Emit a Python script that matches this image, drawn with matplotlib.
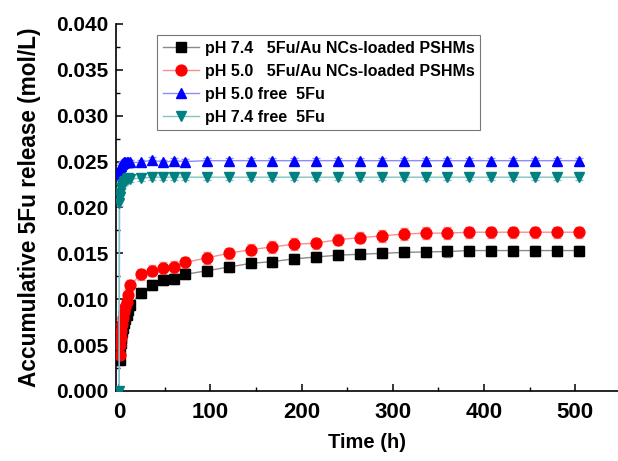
import matplotlib
matplotlib.use("Agg")
import matplotlib.pyplot as plt
from matplotlib.ticker import MultipleLocator, FormatStrFormatter

plt.rcParams['font.family'] = ['Liberation Sans', 'DejaVu Sans']
plt.rcParams['font.weight'] = 'bold'

# ---------------- data ----------------
time_loaded = [0.5, 1, 1.5, 2, 3, 4, 5, 6, 8, 10, 12, 24, 36, 48, 60, 72, 96, 120,
               144, 168, 192, 216, 240, 264, 288, 312, 336, 360, 384, 408, 432,
               456, 480, 504]
ph74_loaded = [0.0034, 0.0045, 0.0052, 0.0058, 0.0064, 0.0069, 0.0074, 0.0078,
               0.0083, 0.0088, 0.0094, 0.0107, 0.0115, 0.0121, 0.0122, 0.0127,
               0.0131, 0.0135, 0.0139, 0.0141, 0.0144, 0.0146, 0.0148, 0.0149,
               0.0150, 0.0151, 0.01515, 0.0152, 0.0153, 0.0153, 0.0153, 0.0153,
               0.0153, 0.0153]
ph50_loaded = [0.0039, 0.0050, 0.0058, 0.0065, 0.0073, 0.0080, 0.0086, 0.0091,
               0.0097, 0.0105, 0.0115, 0.0127, 0.0131, 0.0134, 0.0135, 0.0140,
               0.0145, 0.0150, 0.0154, 0.0157, 0.0160, 0.0161, 0.0165, 0.0167,
               0.0169, 0.0171, 0.0172, 0.0172, 0.0173, 0.0173, 0.0173, 0.0173,
               0.0173, 0.0173]

time_free = [0, 0.25, 0.5, 1, 2, 3, 4, 5, 6, 8, 10, 12, 24, 36, 48, 60, 72, 96,
             120, 144, 168, 192, 216, 240, 264, 288, 312, 336, 360, 384, 408,
             432, 456, 480, 504]
ph50_free = [0.0, 0.0236, 0.0240, 0.0243, 0.0245, 0.0247, 0.0248, 0.0249, 0.0249,
             0.0250, 0.0250, 0.0249, 0.0249, 0.0252, 0.0249, 0.0251, 0.0250,
             0.0251, 0.0251, 0.0251, 0.0251, 0.0251, 0.0251, 0.0251, 0.0251,
             0.0251, 0.0251, 0.0251, 0.0251, 0.0251, 0.0251, 0.0251, 0.0251,
             0.0251, 0.0251]
ph74_free = [0.0, 0.0205, 0.0211, 0.0216, 0.0221, 0.0224, 0.0226, 0.0228, 0.0229,
             0.0231, 0.0232, 0.0231, 0.0232, 0.0233, 0.0233, 0.0233, 0.0233,
             0.0233, 0.0233, 0.0233, 0.0233, 0.0233, 0.0233, 0.0233, 0.0233,
             0.0233, 0.0233, 0.0233, 0.0233, 0.0233, 0.0233, 0.0233, 0.0233,
             0.0233, 0.0233]

err_ph74_loaded = 0.00055
err_ph50_loaded = 0.00062
err_ph50_free = 0.0003
err_ph74_free = 0.0003

labels = ["pH 7.4   5Fu/Au NCs-loaded PSHMs",
          "pH 5.0   5Fu/Au NCs-loaded PSHMs",
          "pH 5.0 free  5Fu",
          "pH 7.4 free  5Fu"]

# ---------------- figure ----------------
fig = plt.figure(figsize=(6.18, 4.61), dpi=100)
ax = fig.add_axes([0.1885, 0.152, 0.8115, 0.796])

series = [
    (time_loaded, ph74_loaded, err_ph74_loaded, 'black', '#8a8a8a', 's', 6.8),
    (time_loaded, ph50_loaded, err_ph50_loaded, '#ff0000', '#ff8c8c', 'o', 7.8),
    (time_free, ph50_free, err_ph50_free, '#0000ff', '#8c8cff', '^', 7.8),
    (time_free, ph74_free, err_ph74_free, '#008080', '#7fc4c0', 'v', 7.8),
]
handles = []
for (t, y, e, c, lc, m, ms), lab in zip(series, labels):
    ax.errorbar(t, y, yerr=e, fmt='none', ecolor=lc, elinewidth=1.0,
                capsize=3, capthick=1.0, zorder=2)
    h, = ax.plot(t, y, color=lc, lw=1.0, marker=m, markersize=ms,
                 markerfacecolor=c, markeredgecolor=c, label=lab, zorder=3)
    handles.append(h)

ax.set_xlim(-3, 547)
ax.set_ylim(0.0, 0.040)
ax.yaxis.set_major_locator(MultipleLocator(0.005))
ax.yaxis.set_minor_locator(MultipleLocator(0.0025))
ax.yaxis.set_major_formatter(FormatStrFormatter('%.3f'))
ax.xaxis.set_major_locator(MultipleLocator(100))
ax.xaxis.set_minor_locator(MultipleLocator(50))

for s in ['top', 'right']:
    ax.spines[s].set_visible(False)
for s in ['left', 'bottom']:
    ax.spines[s].set_linewidth(1.2)

ax.tick_params(axis='both', which='major', direction='in', length=5, width=1.1)
ax.tick_params(axis='both', which='minor', direction='in', length=3, width=1.0)
ax.tick_params(axis='y', which='major', labelsize=15, pad=6)
ax.tick_params(axis='x', which='major', labelsize=16, pad=8)
for lbl in ax.get_xticklabels() + ax.get_yticklabels():
    lbl.set_fontweight('bold')

ax.set_xlabel('Time (h)', fontsize=14.5, fontweight='bold', labelpad=7)
ax.set_ylabel('Accumulative 5Fu release (mol/L)', fontsize=16.3,
              fontweight='bold', labelpad=11)

leg = ax.legend(handles=handles, loc='upper left',
                bbox_to_anchor=(157 / 618, 1 - 35 / 461),
                bbox_transform=fig.transFigure, borderaxespad=0,
                fontsize=11.5, frameon=True, fancybox=False,
                handlelength=2.3, handletextpad=0.35, labelspacing=0.5,
                borderpad=0.35)
leg.get_frame().set_edgecolor('#555555')
leg.get_frame().set_linewidth(0.8)
for txt in leg.get_texts():
    txt.set_fontweight('bold')

fig.savefig('out.png', dpi=100)
